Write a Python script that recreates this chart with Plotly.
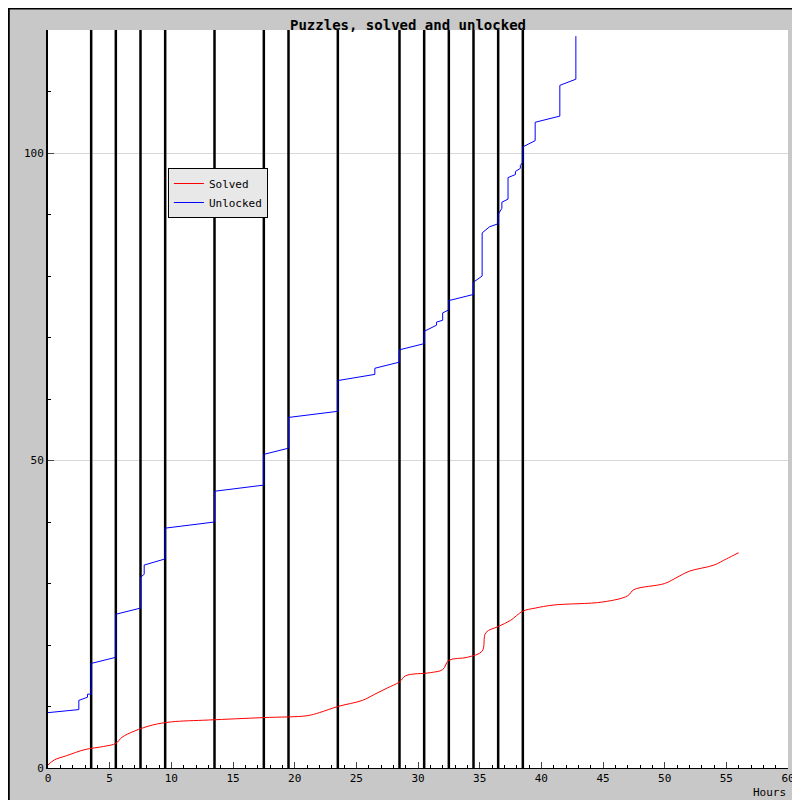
import plotly.graph_objects as go

unlocked_x = [0, 2.5, 2.5, 3.2, 3.2, 3.5, 3.5, 5.5, 5.5, 7.5, 7.5, 7.8, 7.8, 9.5, 9.5, 13.5, 13.5, 17.5, 17.5,
              19.5, 19.5, 23.5, 23.5, 26.5, 26.5, 28.5, 28.5, 30.5, 30.5, 31.5, 31.5, 32.0, 32.0, 32.5, 32.5,
              34.5, 34.5, 35.2, 35.2, 35.8, 35.8, 36.5, 36.5, 36.8, 36.8, 37.3, 37.3, 37.9, 37.9, 38.3, 38.3,
              38.5, 38.5, 39.5, 39.5, 41.5, 41.5, 42.8, 42.8]
unlocked_y = [9, 9.5, 11, 11.5, 12, 12, 17, 18, 25, 26, 31, 31.5, 33, 34, 39, 40, 45, 46, 51,
              52, 57, 58, 63, 64, 65, 66, 68, 69, 71, 72, 72.5, 72.8, 74, 74.5, 76,
              77, 79, 80, 87, 88, 88, 88.5, 90, 91, 92, 92.5, 96, 96.5, 97, 97.5, 98,
              98.5, 101, 102, 105, 106, 111, 112, 119]
solved_x = [0, 0.5, 1.5, 3, 4.5, 5.5, 6, 7, 8.5, 10, 13, 17.5, 21, 22, 23.5, 25.5, 26.5, 27.5, 28.5,
            29, 31, 32, 32.5, 34, 35.2, 35.5, 36.5, 37.5, 38.5, 39.5, 41, 45, 47, 47.5, 50, 51, 52, 54, 55, 56]
solved_y = [0.5, 1.3, 2, 3, 3.5, 4, 5, 6, 7, 7.5, 7.8, 8.2, 8.5, 9, 10, 11, 12, 13, 14,
            15, 15.5, 16, 17.5, 18, 19, 22, 23, 24, 25.5, 26, 26.5, 27, 28, 29, 30, 31, 32, 33, 34, 35]
marker_hours = [3.5, 5.5, 7.5, 9.5, 13.5, 17.5, 19.5, 23.5, 28.5, 30.5, 32.5, 34.5, 36.5, 38.5]

font = "DejaVu Sans Mono"
fig = go.Figure()
vx, vy = [], []
for h in marker_hours:
    vx += [h, h, None]
    vy += [0, 120, None]
fig.add_trace(go.Scatter(x=vx, y=vy, mode="lines", line=dict(color="black", width=2.5),
                         showlegend=False, hoverinfo="skip"))
fig.add_trace(go.Scatter(x=solved_x, y=solved_y, mode="lines", name="Solved",
                         line=dict(color="red", width=1, shape="spline")))
fig.add_trace(go.Scatter(x=unlocked_x, y=unlocked_y, mode="lines", name="Unlocked",
                         line=dict(color="blue", width=1)))

fig.update_layout(
    width=800, height=800, paper_bgcolor="#c8c8c8", plot_bgcolor="white",
    margin=dict(l=40, r=20, t=22, b=40, autoexpand=False),
    font=dict(family=font, size=11, color="black"),
    title=dict(text="<b>Puzzles, solved and unlocked</b>", x=0.5, xanchor="center", y=0.985,
               font=dict(family=font, size=14, color="black")),
    legend=dict(x=0.162, y=0.813, xanchor="left", yanchor="top", bgcolor="#e8e8e8",
                bordercolor="black", borderwidth=1, font=dict(family=font, size=11),
                itemwidth=30, tracegroupgap=0),
    xaxis=dict(range=[0, 60], tick0=0, dtick=5, ticks="inside", ticklen=6, showgrid=False,
               showline=True, linecolor="black", linewidth=1, zeroline=False, automargin=False,
               minor=dict(dtick=1, ticks="inside", ticklen=3, tickcolor="black"),
               tickfont=dict(family=font, size=11)),
    yaxis=dict(range=[0, 120], tickvals=[0, 50, 100], ticks="inside", ticklen=6,
               showgrid=True, gridcolor="#d8d8d8", showline=True, linecolor="black",
               linewidth=2, zeroline=False, automargin=False,
               minor=dict(dtick=10, ticks="inside", ticklen=3, tickcolor="black", showgrid=False),
               tickfont=dict(family=font, size=11)),
    annotations=[dict(text="Hours", xref="paper", yref="paper", x=1.0, y=-0.022,
                      xanchor="right", yanchor="top", showarrow=False,
                      font=dict(family=font, size=11))],
    shapes=[dict(type="rect", xref="paper", yref="paper", x0=0.166, x1=0.283, y0=0.757, y1=0.809,
                 fillcolor="#b0b0b0", line=dict(width=0), layer="below"),
            dict(type="rect", xref="paper", yref="paper", x0=-0.053, x1=1.026, y0=-0.053, y1=1.029,
                 line=dict(color="black", width=2), layer="above")],
)
fig.write_html("out.html")
